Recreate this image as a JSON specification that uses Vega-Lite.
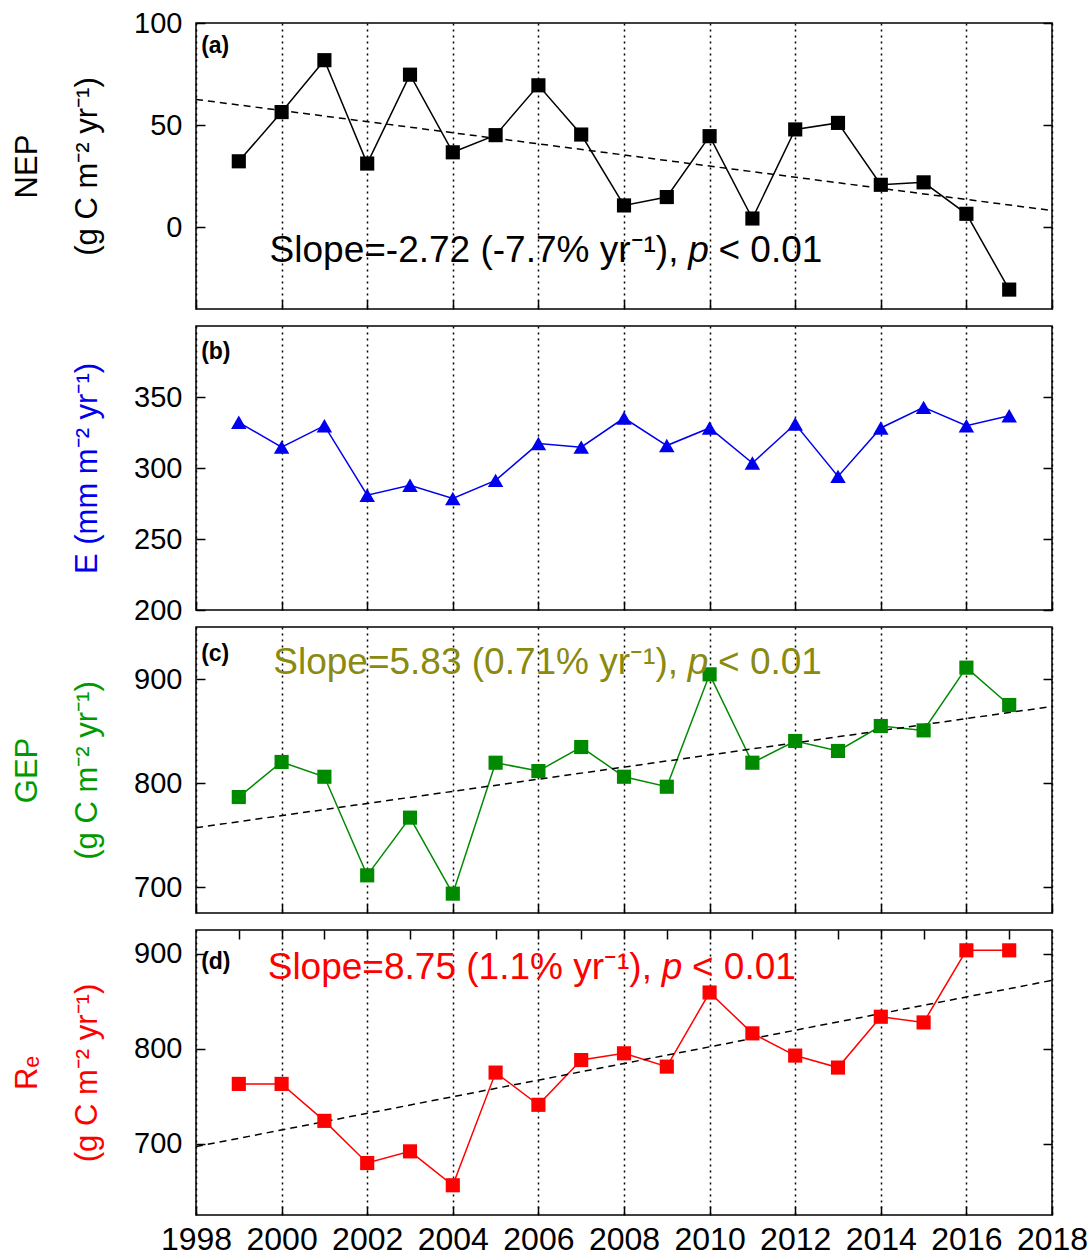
{
  "$schema": "https://vega.github.io/schema/vega-lite/v6.json",
  "background": "white",
  "padding": {"left": 10, "top": 8, "right": 5, "bottom": 2},
  "bounds": "flush",
  "spacing": 17,
  "config": {
    "font": "Liberation Sans",
    "view": {"stroke": "black", "strokeWidth": 1.5},
    "axis": {
      "domain": false, "ticks": true, "tickColor": "black", "tickWidth": 1.5, "tickSize": -9,
      "labelColor": "black", "labelFont": "Liberation Sans", "labelFontSize": 29, "labelPadding": 23,
      "labelFlush": false, "labelOverlap": false, "labelBound": false,
      "titleFont": "Liberation Sans", "titleFontSize": 31, "titleFontWeight": "normal", "titleColor": "black",
      "titlePadding": 30, "titleLineHeight": 60,
      "gridColor": "black", "gridDash": [2, 4], "gridWidth": 1.5, "gridOpacity": 1
    },
    "axisX": {"labelFontSize": 32, "labelPadding": 18}
  },
  "datasets": {
    "nep": [
      {"year": 1999, "value": 32.3}, {"year": 2000, "value": 56.4}, {"year": 2001, "value": 81.8},
      {"year": 2002, "value": 31.2}, {"year": 2003, "value": 74.7}, {"year": 2004, "value": 36.7},
      {"year": 2005, "value": 45.1}, {"year": 2006, "value": 69.5}, {"year": 2007, "value": 45.4},
      {"year": 2008, "value": 10.7}, {"year": 2009, "value": 14.8}, {"year": 2010, "value": 44.6},
      {"year": 2011, "value": 4.3}, {"year": 2012, "value": 47.9}, {"year": 2013, "value": 51.1},
      {"year": 2014, "value": 20.8}, {"year": 2015, "value": 22.0}, {"year": 2016, "value": 6.6},
      {"year": 2017, "value": -30.5}
    ],
    "e": [
      {"year": 1999, "value": 332.2}, {"year": 2000, "value": 314.7}, {"year": 2001, "value": 329.8},
      {"year": 2002, "value": 280.8}, {"year": 2003, "value": 287.8}, {"year": 2004, "value": 278.5},
      {"year": 2005, "value": 291.3}, {"year": 2006, "value": 317.2}, {"year": 2007, "value": 314.7},
      {"year": 2008, "value": 335.2}, {"year": 2009, "value": 315.8}, {"year": 2010, "value": 328.2},
      {"year": 2011, "value": 303.5}, {"year": 2012, "value": 331.0}, {"year": 2013, "value": 294.1},
      {"year": 2014, "value": 328.2}, {"year": 2015, "value": 342.7}, {"year": 2016, "value": 329.8},
      {"year": 2017, "value": 336.8}
    ],
    "gep": [
      {"year": 1999, "value": 786.5}, {"year": 2000, "value": 820.2}, {"year": 2001, "value": 806.0},
      {"year": 2002, "value": 711.2}, {"year": 2003, "value": 766.7}, {"year": 2004, "value": 693.6},
      {"year": 2005, "value": 819.5}, {"year": 2006, "value": 811.5}, {"year": 2007, "value": 834.6},
      {"year": 2008, "value": 806.0}, {"year": 2009, "value": 796.4}, {"year": 2010, "value": 904.5},
      {"year": 2011, "value": 819.5}, {"year": 2012, "value": 840.4}, {"year": 2013, "value": 830.8},
      {"year": 2014, "value": 854.8}, {"year": 2015, "value": 850.6}, {"year": 2016, "value": 910.9},
      {"year": 2017, "value": 875.0}
    ],
    "re": [
      {"year": 1999, "value": 763.0}, {"year": 2000, "value": 763.0}, {"year": 2001, "value": 724.1},
      {"year": 2002, "value": 679.7}, {"year": 2003, "value": 692.0}, {"year": 2004, "value": 656.3},
      {"year": 2005, "value": 774.9}, {"year": 2006, "value": 741.0}, {"year": 2007, "value": 788.1},
      {"year": 2008, "value": 795.2}, {"year": 2009, "value": 781.2}, {"year": 2010, "value": 859.2},
      {"year": 2011, "value": 816.2}, {"year": 2012, "value": 792.8}, {"year": 2013, "value": 780.2},
      {"year": 2014, "value": 833.7}, {"year": 2015, "value": 827.7}, {"year": 2016, "value": 903.6},
      {"year": 2017, "value": 903.6}
    ],
    "trend": [
      {"panel": "a", "year": 1998, "value": 62.6}, {"panel": "a", "year": 2018, "value": 8.2},
      {"panel": "c", "year": 1998, "value": 757.0}, {"panel": "c", "year": 2018, "value": 873.6},
      {"panel": "d", "year": 1998, "value": 697.0}, {"panel": "d", "year": 2018, "value": 872.0}
    ],
    "notes": [
      {"panel": "a", "part": "tag", "year": 1998.12, "value": 88.6, "label": "(a)"},
      {"panel": "b", "part": "tag", "year": 1998.12, "value": 381.7, "label": "(b)"},
      {"panel": "c", "part": "tag", "year": 1998.12, "value": 923.8, "label": "(c)"},
      {"panel": "d", "part": "tag", "year": 1998.12, "value": 891.4, "label": "(d)"},
      {"panel": "a", "part": "pre", "year": 2009.74, "value": -17.2, "label": "Slope=-2.72 (-7.7% yr⁻¹),"},
      {"panel": "a", "part": "p", "year": 2009.74, "value": -17.2, "label": "p"},
      {"panel": "a", "part": "post", "year": 2009.74, "value": -17.2, "label": "< 0.01"},
      {"panel": "c", "part": "pre", "year": 2009.73, "value": 904.5, "label": "Slope=5.83 (0.71% yr⁻¹),"},
      {"panel": "c", "part": "p", "year": 2009.73, "value": 904.5, "label": "p"},
      {"panel": "c", "part": "post", "year": 2009.73, "value": 904.5, "label": "< 0.01"},
      {"panel": "d", "part": "pre", "year": 2009.12, "value": 873.9, "label": "Slope=8.75 (1.1% yr⁻¹),"},
      {"panel": "d", "part": "p", "year": 2009.12, "value": 873.9, "label": "p"},
      {"panel": "d", "part": "post", "year": 2009.12, "value": 873.9, "label": "< 0.01"}
    ]
  },
  "vconcat": [
    {
      "width": 856, "height": 286,
      "resolve": {"axis": {"x": "independent", "y": "independent"}},
      "layer": [
        {
          "data": {"name": "nep"},
          "mark": {"type": "line", "color": "black", "strokeWidth": 1.5},
          "encoding": {
            "x": {"field": "year", "type": "quantitative", "scale": {"domain": [1998, 2018], "nice": false, "zero": false},
                  "axis": {"orient": "bottom", "values": [1998, 2000, 2002, 2004, 2006, 2008, 2010, 2012, 2014, 2016, 2018], "labels": false, "grid": true, "title": null}},
            "y": {"field": "value", "type": "quantitative", "scale": {"domain": [-40, 100], "nice": false, "zero": false},
                  "axis": {"orient": "left", "values": [0, 50, 100], "grid": false, "title": ["NEP", "(g C m⁻² yr⁻¹)"]}}
          }
        },
        {
          "data": {"name": "trend"},
          "transform": [{"filter": "datum.panel == 'a'"}],
          "mark": {"type": "line", "color": "black", "strokeWidth": 1.5, "strokeDash": [7, 5]},
          "encoding": {
            "x": {"field": "year", "type": "quantitative", "axis": null},
            "y": {"field": "value", "type": "quantitative", "axis": {"orient": "right", "values": [0, 50, 100], "labels": false, "grid": false, "title": null}}
          }
        },
        {
          "data": {"name": "nep"},
          "mark": {"type": "point", "shape": "square", "filled": true, "size": 200, "color": "black", "opacity": 1},
          "encoding": {
            "x": {"field": "year", "type": "quantitative", "axis": null},
            "y": {"field": "value", "type": "quantitative", "axis": null}
          }
        },
        {
          "data": {"name": "notes"},
          "transform": [{"filter": "datum.panel == 'a' && datum.part == 'tag'"}],
          "mark": {"type": "text", "align": "left", "baseline": "middle", "fontSize": 23, "fontWeight": "bold", "color": "black"},
          "encoding": {"x": {"field": "year", "type": "quantitative", "axis": null}, "y": {"field": "value", "type": "quantitative", "axis": null}, "text": {"field": "label"}}
        },
        {
          "data": {"name": "notes"},
          "transform": [{"filter": "datum.panel == 'a' && datum.part == 'pre'"}],
          "mark": {"type": "text", "align": "right", "baseline": "alphabetic", "dx": -20, "fontSize": 37, "color": "black"},
          "encoding": {"x": {"field": "year", "type": "quantitative", "axis": null}, "y": {"field": "value", "type": "quantitative", "axis": null}, "text": {"field": "label"}}
        },
        {
          "data": {"name": "notes"},
          "transform": [{"filter": "datum.panel == 'a' && datum.part == 'p'"}],
          "mark": {"type": "text", "align": "center", "baseline": "alphabetic", "fontSize": 37, "fontStyle": "italic", "color": "black"},
          "encoding": {"x": {"field": "year", "type": "quantitative", "axis": null}, "y": {"field": "value", "type": "quantitative", "axis": null}, "text": {"field": "label"}}
        },
        {
          "data": {"name": "notes"},
          "transform": [{"filter": "datum.panel == 'a' && datum.part == 'post'"}],
          "mark": {"type": "text", "align": "left", "baseline": "alphabetic", "dx": 20, "fontSize": 37, "color": "black"},
          "encoding": {"x": {"field": "year", "type": "quantitative", "axis": null}, "y": {"field": "value", "type": "quantitative", "axis": null}, "text": {"field": "label"}}
        }
      ]
    },
    {
      "width": 856, "height": 284,
      "resolve": {"axis": {"x": "independent", "y": "independent"}},
      "layer": [
        {
          "data": {"name": "e"},
          "mark": {"type": "line", "color": "#0000ee", "strokeWidth": 1.5},
          "encoding": {
            "x": {"field": "year", "type": "quantitative", "scale": {"domain": [1998, 2018], "nice": false, "zero": false},
                  "axis": {"orient": "bottom", "values": [1998, 2000, 2002, 2004, 2006, 2008, 2010, 2012, 2014, 2016, 2018], "labels": false, "grid": true, "title": null}},
            "y": {"field": "value", "type": "quantitative", "scale": {"domain": [200, 400], "nice": false, "zero": false},
                  "axis": {"orient": "left", "values": [200, 250, 300, 350], "grid": false, "title": "E (mm m⁻² yr⁻¹)", "titleColor": "#0000ee"}}
          }
        },
        {
          "data": {"name": "e"},
          "mark": {"type": "point", "shape": "triangle-up", "filled": true, "size": 240, "color": "#0000ee", "opacity": 1},
          "encoding": {
            "x": {"field": "year", "type": "quantitative", "axis": null},
            "y": {"field": "value", "type": "quantitative", "axis": {"orient": "right", "values": [200, 250, 300, 350], "labels": false, "grid": false, "title": null}}
          }
        },
        {
          "data": {"name": "notes"},
          "transform": [{"filter": "datum.panel == 'b' && datum.part == 'tag'"}],
          "mark": {"type": "text", "align": "left", "baseline": "middle", "fontSize": 23, "fontWeight": "bold", "color": "black"},
          "encoding": {"x": {"field": "year", "type": "quantitative", "axis": null}, "y": {"field": "value", "type": "quantitative", "axis": null}, "text": {"field": "label"}}
        }
      ]
    },
    {
      "width": 856, "height": 286,
      "resolve": {"axis": {"x": "independent", "y": "independent"}},
      "layer": [
        {
          "data": {"name": "gep"},
          "mark": {"type": "line", "color": "#008a00", "strokeWidth": 1.5},
          "encoding": {
            "x": {"field": "year", "type": "quantitative", "scale": {"domain": [1998, 2018], "nice": false, "zero": false},
                  "axis": {"orient": "bottom", "values": [1998, 2000, 2002, 2004, 2006, 2008, 2010, 2012, 2014, 2016, 2018], "labels": false, "grid": true, "title": null}},
            "y": {"field": "value", "type": "quantitative", "scale": {"domain": [675, 950], "nice": false, "zero": false},
                  "axis": {"orient": "left", "values": [700, 800, 900], "grid": false, "title": ["GEP", "(g C m⁻² yr⁻¹)"], "titleColor": "#009a00"}}
          }
        },
        {
          "data": {"name": "trend"},
          "transform": [{"filter": "datum.panel == 'c'"}],
          "mark": {"type": "line", "color": "black", "strokeWidth": 1.5, "strokeDash": [7, 5]},
          "encoding": {
            "x": {"field": "year", "type": "quantitative", "axis": null},
            "y": {"field": "value", "type": "quantitative", "axis": {"orient": "right", "values": [700, 800, 900], "labels": false, "grid": false, "title": null}}
          }
        },
        {
          "data": {"name": "gep"},
          "mark": {"type": "point", "shape": "square", "filled": true, "size": 200, "color": "#008a00", "opacity": 1},
          "encoding": {
            "x": {"field": "year", "type": "quantitative", "axis": null},
            "y": {"field": "value", "type": "quantitative", "axis": null}
          }
        },
        {
          "data": {"name": "notes"},
          "transform": [{"filter": "datum.panel == 'c' && datum.part == 'tag'"}],
          "mark": {"type": "text", "align": "left", "baseline": "middle", "fontSize": 23, "fontWeight": "bold", "color": "black"},
          "encoding": {"x": {"field": "year", "type": "quantitative", "axis": null}, "y": {"field": "value", "type": "quantitative", "axis": null}, "text": {"field": "label"}}
        },
        {
          "data": {"name": "notes"},
          "transform": [{"filter": "datum.panel == 'c' && datum.part == 'pre'"}],
          "mark": {"type": "text", "align": "right", "baseline": "alphabetic", "dx": -20, "fontSize": 37, "color": "#8a8a10"},
          "encoding": {"x": {"field": "year", "type": "quantitative", "axis": null}, "y": {"field": "value", "type": "quantitative", "axis": null}, "text": {"field": "label"}}
        },
        {
          "data": {"name": "notes"},
          "transform": [{"filter": "datum.panel == 'c' && datum.part == 'p'"}],
          "mark": {"type": "text", "align": "center", "baseline": "alphabetic", "fontSize": 37, "fontStyle": "italic", "color": "#8a8a10"},
          "encoding": {"x": {"field": "year", "type": "quantitative", "axis": null}, "y": {"field": "value", "type": "quantitative", "axis": null}, "text": {"field": "label"}}
        },
        {
          "data": {"name": "notes"},
          "transform": [{"filter": "datum.panel == 'c' && datum.part == 'post'"}],
          "mark": {"type": "text", "align": "left", "baseline": "alphabetic", "dx": 20, "fontSize": 37, "color": "#8a8a10"},
          "encoding": {"x": {"field": "year", "type": "quantitative", "axis": null}, "y": {"field": "value", "type": "quantitative", "axis": null}, "text": {"field": "label"}}
        }
      ]
    },
    {
      "width": 856, "height": 285,
      "resolve": {"axis": {"x": "independent", "y": "independent"}},
      "layer": [
        {
          "data": {"name": "re"},
          "mark": {"type": "line", "color": "#ff0000", "strokeWidth": 1.5},
          "encoding": {
            "x": {"field": "year", "type": "quantitative", "scale": {"domain": [1998, 2018], "nice": false, "zero": false},
                  "axis": {"orient": "bottom", "values": [1998, 2000, 2002, 2004, 2006, 2008, 2010, 2012, 2014, 2016, 2018], "labels": true, "format": "d", "grid": true, "title": null}},
            "y": {"field": "value", "type": "quantitative", "scale": {"domain": [625, 925], "nice": false, "zero": false},
                  "axis": {"orient": "left", "values": [700, 800, 900], "grid": false, "title": ["Rₑ", "(g C m⁻² yr⁻¹)"], "titleColor": "#ff0000"}}
          }
        },
        {
          "data": {"name": "trend"},
          "transform": [{"filter": "datum.panel == 'd'"}],
          "mark": {"type": "line", "color": "black", "strokeWidth": 1.5, "strokeDash": [7, 5]},
          "encoding": {
            "x": {"field": "year", "type": "quantitative",
                  "axis": {"orient": "top", "values": [1999, 2000, 2001, 2002, 2003, 2004, 2005, 2006, 2007, 2008, 2009, 2010, 2011, 2012, 2013, 2014, 2015, 2016, 2017], "labels": false, "grid": false, "title": null}},
            "y": {"field": "value", "type": "quantitative", "axis": {"orient": "right", "values": [700, 800, 900], "labels": false, "grid": false, "title": null}}
          }
        },
        {
          "data": {"name": "re"},
          "mark": {"type": "point", "shape": "square", "filled": true, "size": 200, "color": "#ff0000", "opacity": 1},
          "encoding": {
            "x": {"field": "year", "type": "quantitative", "axis": null},
            "y": {"field": "value", "type": "quantitative", "axis": null}
          }
        },
        {
          "data": {"name": "notes"},
          "transform": [{"filter": "datum.panel == 'd' && datum.part == 'tag'"}],
          "mark": {"type": "text", "align": "left", "baseline": "middle", "fontSize": 23, "fontWeight": "bold", "color": "black"},
          "encoding": {"x": {"field": "year", "type": "quantitative", "axis": null}, "y": {"field": "value", "type": "quantitative", "axis": null}, "text": {"field": "label"}}
        },
        {
          "data": {"name": "notes"},
          "transform": [{"filter": "datum.panel == 'd' && datum.part == 'pre'"}],
          "mark": {"type": "text", "align": "right", "baseline": "alphabetic", "dx": -20, "fontSize": 37, "color": "#ff0000"},
          "encoding": {"x": {"field": "year", "type": "quantitative", "axis": null}, "y": {"field": "value", "type": "quantitative", "axis": null}, "text": {"field": "label"}}
        },
        {
          "data": {"name": "notes"},
          "transform": [{"filter": "datum.panel == 'd' && datum.part == 'p'"}],
          "mark": {"type": "text", "align": "center", "baseline": "alphabetic", "fontSize": 37, "fontStyle": "italic", "color": "#ff0000"},
          "encoding": {"x": {"field": "year", "type": "quantitative", "axis": null}, "y": {"field": "value", "type": "quantitative", "axis": null}, "text": {"field": "label"}}
        },
        {
          "data": {"name": "notes"},
          "transform": [{"filter": "datum.panel == 'd' && datum.part == 'post'"}],
          "mark": {"type": "text", "align": "left", "baseline": "alphabetic", "dx": 20, "fontSize": 37, "color": "#ff0000"},
          "encoding": {"x": {"field": "year", "type": "quantitative", "axis": null}, "y": {"field": "value", "type": "quantitative", "axis": null}, "text": {"field": "label"}}
        }
      ]
    }
  ]
}
